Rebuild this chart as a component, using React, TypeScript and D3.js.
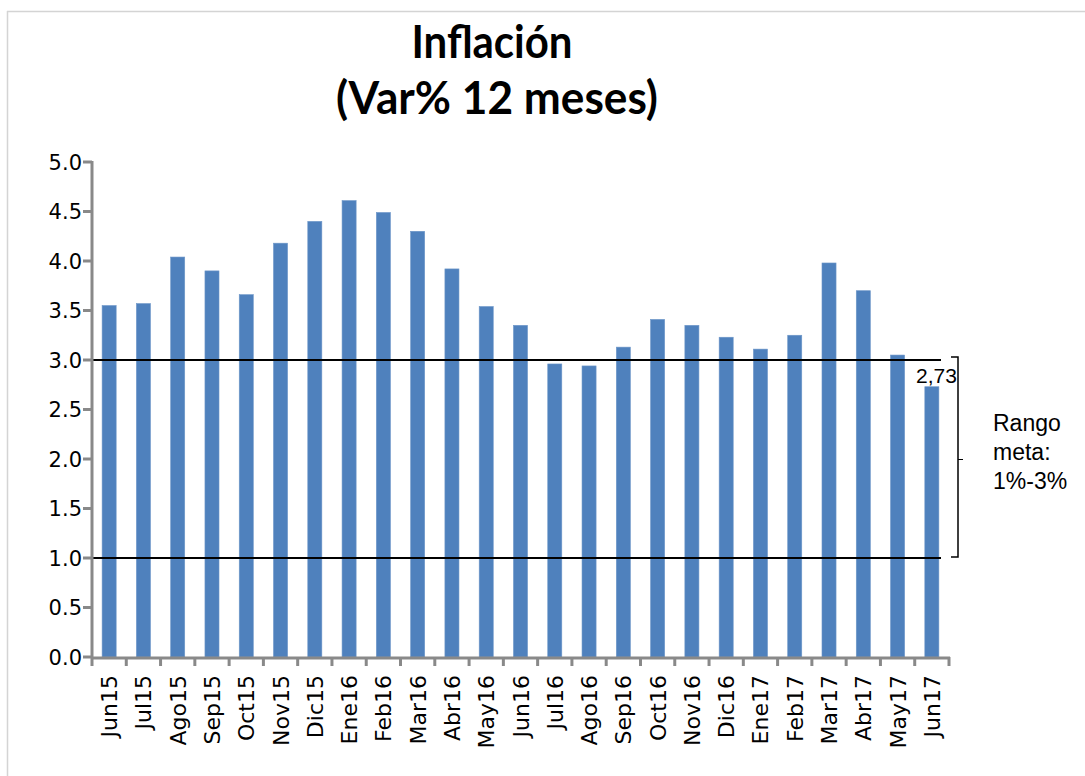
import React from 'react';
import * as d3 from 'd3';

// months shown on the x axis
const months = [
  'Jun15', 'Jul15', 'Ago15', 'Sep15', 'Oct15', 'Nov15', 'Dic15', 'Ene16', 'Feb16',
  'Mar16', 'Abr16', 'May16', 'Jun16', 'Jul16', 'Ago16', 'Sep16', 'Oct16', 'Nov16',
  'Dic16', 'Ene17', 'Feb17', 'Mar17', 'Abr17', 'May17', 'Jun17',
];

// 12-month inflation (%)
const inflation = [
  3.55, 3.57, 4.04, 3.90, 3.66, 4.18, 4.40, 4.61, 4.49,
  4.30, 3.92, 3.54, 3.35, 2.96, 2.94, 3.13, 3.41, 3.35,
  3.23, 3.11, 3.25, 3.98, 3.70, 3.05, 2.73,
];

const yTicks = [0, 0.5, 1, 1.5, 2, 2.5, 3, 3.5, 4, 4.5, 5];
const targetLow = 1;
const targetHigh = 3;
const lastLabel = '2,73';
const rangeLines = ['Rango', 'meta:', '1%-3%'];

const W = 1085;
const H = 776;
const plot = { left: 92, right: 949, top: 162, bottom: 657 };

export default function App() {
  const x = d3.scaleBand<string>().domain(months).range([plot.left, plot.right]).padding(0);
  const y = d3.scaleLinear().domain([0, 5]).range([plot.bottom, plot.top]);
  const barW = x.bandwidth() * 0.41;
  const axisColor = '#898989';
  const tickFont = '"DejaVu Sans", Verdana, sans-serif';
  const arial = '"Liberation Sans", Arial, sans-serif';

  const boundaries = months.map((m) => x(m)!).concat([plot.right]);
  const lastX = x(months[months.length - 1])! + x.bandwidth() / 2;
  const lineEnd = 941;
  const bx = 958;
  const yHi = y(targetHigh);
  const yLo = y(targetLow);

  return (
    <svg width={W} height={H} style={{ position: 'absolute', left: 0, top: 0, background: '#fff' }}>
      {/* frame */}
      <line x1={7.5} x2={7.5} y1={11} y2={H} stroke="#d4d4d4" strokeWidth={1.5} />
      <line x1={7} x2={W} y1={11.5} y2={11.5} stroke="#d4d4d4" strokeWidth={1.5} />

      {/* title */}
      <text x={492} y={58} textAnchor="middle" fontFamily="Lato, sans-serif" fontWeight={700}
        fontSize={46} textLength={161} lengthAdjust="spacingAndGlyphs" fill="#000">
        Inflación
      </text>
      <text x={497} y={114} textAnchor="middle" fontFamily="Lato, sans-serif" fontWeight={700}
        fontSize={46} textLength={322} lengthAdjust="spacingAndGlyphs" fill="#000">
        (Var% 12 meses)
      </text>

      {/* bars */}
      {inflation.map((v, i) => {
        const cx = x(months[i])! + x.bandwidth() / 2;
        return (
          <rect key={months[i]} x={cx - barW / 2} y={y(v)} width={barW} height={y(0) - y(v)}
            fill="#4f81bd" stroke="#6d96c8" strokeWidth={0.6} />
        );
      })}

      {/* target range lines */}
      <line x1={plot.left} x2={lineEnd} y1={yHi} y2={yHi} stroke="#000" strokeWidth={2} />
      <line x1={plot.left} x2={lineEnd} y1={yLo} y2={yLo} stroke="#000" strokeWidth={2} />

      {/* y axis */}
      <line x1={plot.left} x2={plot.left} y1={plot.top - 1} y2={plot.bottom + 1} stroke={axisColor} strokeWidth={3} />
      {yTicks.map((t) => (
        <g key={t}>
          <line x1={plot.left - 9} x2={plot.left} y1={y(t)} y2={y(t)} stroke={axisColor} strokeWidth={3} />
          <text x={82} y={y(t)} dy="0.36em" textAnchor="end" fontFamily={tickFont} fontSize={21} fill="#000">
            {t.toFixed(1)}
          </text>
        </g>
      ))}

      {/* x axis */}
      <line x1={plot.left - 1} x2={plot.right + 1} y1={plot.bottom + 1} y2={plot.bottom + 1} stroke={axisColor} strokeWidth={3} />
      {boundaries.map((b, i) => (
        <line key={i} x1={b} x2={b} y1={plot.bottom} y2={plot.bottom + 9} stroke={axisColor} strokeWidth={3} />
      ))}
      {months.map((m) => {
        const cx = x(m)! + x.bandwidth() / 2;
        return (
          <text key={m} transform={`translate(${cx + 8},675) rotate(-90)`} textAnchor="end"
            fontFamily={tickFont} fontSize={22} fill="#000">
            {m}
          </text>
        );
      })}

      {/* last value label */}
      <text x={lastX + 25} y={383} textAnchor="end" fontFamily={arial} fontSize={21} fill="#000">
        {lastLabel}
      </text>

      {/* bracket for target range */}
      <path d={`M${bx - 7},${yHi - 3} H${bx} V${yLo - 1} H${bx - 7}`} fill="none" stroke="#000" strokeWidth={1.5} />
      <line x1={bx} x2={bx + 5} y1={(yHi + yLo) / 2 + 0.5} y2={(yHi + yLo) / 2 + 0.5} stroke="#000" strokeWidth={1} />
      {rangeLines.map((s, i) => (
        <text key={s} x={993} y={431 + i * 29} fontFamily={arial} fontSize={23} fill="#000">
          {s}
        </text>
      ))}
    </svg>
  );
}
